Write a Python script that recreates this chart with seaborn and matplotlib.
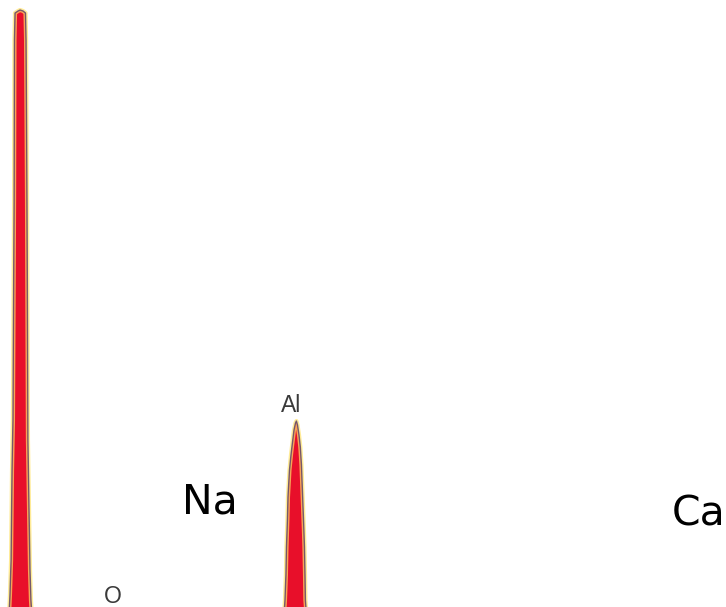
import numpy as np
import matplotlib
matplotlib.use("Agg")
import matplotlib.pyplot as plt
import seaborn as sns

# EDS spectrum (cropped view) - energy in keV, counts
energy = [-0.080, -0.050, -0.034, -0.029, -0.023, -0.018, -0.013, -0.007, -0.005, -0.002,
          0.014, 0.025, 0.041, 0.054, 0.057, 0.062, 0.067, 0.072, 0.078, 0.083, 0.088, 0.104,
          0.30, 0.52, 0.80, 1.04, 1.30, 1.410,
          1.432, 1.437, 1.442, 1.445, 1.450, 1.453, 1.461, 1.469, 1.474, 1.485, 1.493, 1.498,
          1.504, 1.512, 1.519, 1.525, 1.530, 1.533, 1.538, 1.541, 1.544, 1.546, 1.552, 1.576,
          2.0, 3.0, 3.69, 3.80]
counts = [150, 150, 260, 360, 535, 985, 1235, 2335, 3135, 3270,
          3280, 3285, 3280, 3270, 3135, 2335, 1135, 835, 485, 335, 260, 150,
          170, 260, 190, 240, 190, 180,
          260, 335, 460, 600, 735, 850, 985, 1060, 1100, 1185, 1220, 1230,
          1210, 1160, 1100, 1010, 885, 810, 685, 600, 460, 335, 260, 180,
          160, 140, 200, 140]

# element labels
labels = ["Na", "Ca", "Al", "O"]
label_x = [1.037, 3.500, 1.472, 0.518]
label_y = [770, 710, 1275, 322]

fig = plt.figure(figsize=(7.26, 6.07), dpi=100)
ax = fig.add_axes([0, 0, 1, 1])

ax.fill_between(energy, 0, counts, color="#ffe060", alpha=0.8, lw=0)
sns.lineplot(x=energy, y=counts, estimator=None, sort=False, color="#ffe36a",
             lw=3, alpha=0.7, ax=ax)
ax.fill_between(energy, 0, counts, color="#e80f2a", lw=0)
sns.lineplot(x=energy, y=counts, estimator=None, sort=False, color="#3d2a6b",
             lw=1.0, alpha=0.7, ax=ax)

ax.text(label_x[0], label_y[0], labels[0], fontsize=29.5, ha="center", va="baseline",
        family="DejaVu Sans", color="black")
ax.text(label_x[1], label_y[1], labels[1], fontsize=29.5, ha="left", va="baseline",
        family="DejaVu Sans", color="black")
for name, xx, yy in zip(labels[2:], label_x[2:], label_y[2:]):
    ax.text(xx, yy, name, fontsize=16.5, ha="center", va="baseline", color="#3a3a3a",
            family=["Liberation Sans", "DejaVu Sans"])

ax.set_xlim(-0.082, 3.788)
ax.set_ylim(300, 3335)
ax.axis("off")

fig.savefig("out.png", dpi=100)
